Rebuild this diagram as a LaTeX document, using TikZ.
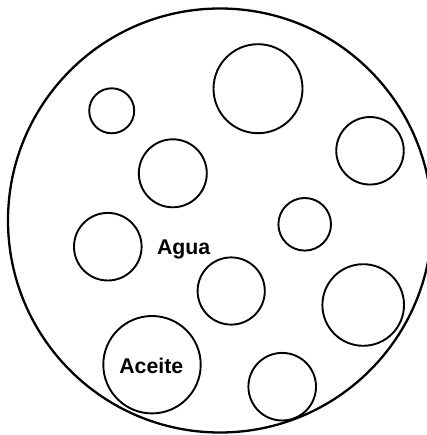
\documentclass[tikz,border=0pt]{standalone}
\usepackage{fontspec}
\setmainfont{Liberation Sans}
\begin{document}
\begin{tikzpicture}[x=1pt,y=-1pt,
  drop/.style={circle,draw,line width=1.9pt,inner sep=0pt,minimum size=#1},
  lbl/.style={font=\bfseries\fontsize{21.3}{24}\selectfont}]
\useasboundingbox (0,0) rectangle (426,435);
\node[circle,draw,line width=2.3pt,inner sep=0pt,minimum size=424pt] (outer) at (220,220.5) {};
\node[drop=45pt] (c1) at (111.7,110.8) {};
\node[drop=89pt] (c2) at (258,88.7) {};
\node[drop=67.5pt] (c3) at (370,150.8) {};
\node[drop=68pt] (c4) at (172.8,173.3) {};
\node[drop=52.6pt] (c5) at (304.7,224.3) {};
\node[drop=67.6pt] (c6) at (107.8,246.7) {};
\node[drop=67.2pt] (c7) at (231.2,291) {};
\node[drop=81.6pt] (c8) at (363.2,305) {};
\node[drop=97.4pt] (oil) at (152,364.7) {};
\node[drop=67.6pt] (c10) at (282.2,386.7) {};
\node[lbl] (agua) at (183.7,249) {Agua};
\node[lbl] (aceite) at (151.3,366) {Aceite};
\end{tikzpicture}
\end{document}
